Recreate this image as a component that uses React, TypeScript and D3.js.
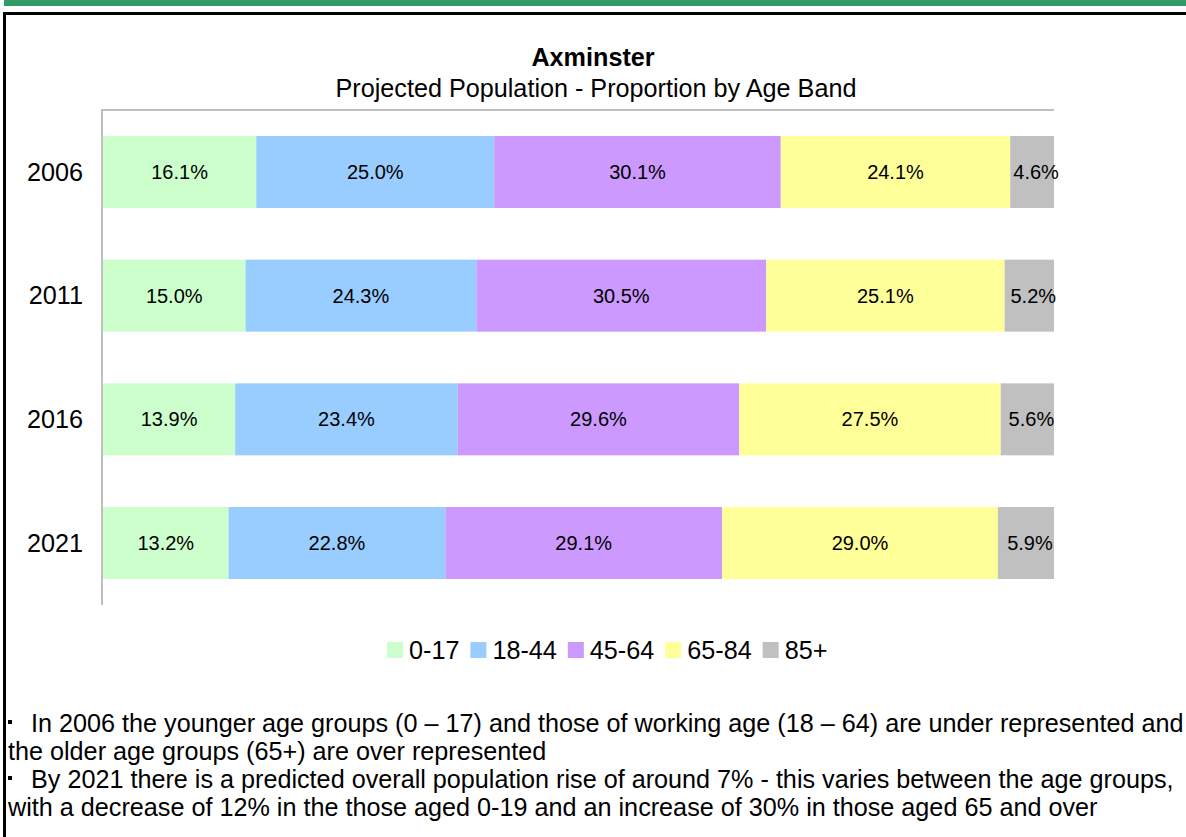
import React from "react";
import * as d3 from "d3";

const years = ["2006", "2011", "2016", "2021"];
const bands = ["0-17", "18-44", "45-64", "65-84", "85+"];
const band0to17 = [16.1, 15.0, 13.9, 13.2];
const band18to44 = [25.0, 24.3, 23.4, 22.8];
const band45to64 = [30.1, 30.5, 29.6, 29.1];
const band65to84 = [24.1, 25.1, 27.5, 29.0];
const band85plus = [4.6, 5.2, 5.6, 5.9];
const colors = ["#CCFFCC", "#99CCFF", "#CC99FF", "#FFFF99", "#C0C0C0"];

const title = "Axminster";
const subtitle = "Projected Population - Proportion by Age Band";
const notes = [
  { bullet: true, text: "In 2006 the younger age groups (0 \u2013 17) and those of working age (18 \u2013 64) are under represented and" },
  { bullet: false, text: "the older age groups (65+) are over represented" },
  { bullet: true, text: "By 2021 there is a predicted overall population rise of around 7% - this varies between the age groups," },
  { bullet: false, text: "with a decrease of 12% in the those aged 0-19 and an increase of 30% in those aged 65 and over" },
];

const FONT = "'Liberation Sans', Arial, Helvetica, sans-serif";
const BIG = 25.2;

function measure(text: string, size: number): number {
  if (typeof document === "undefined") return text.length * size * 0.55;
  const c = document.createElement("canvas");
  const ctx = c.getContext("2d");
  if (!ctx) return text.length * size * 0.55;
  ctx.font = `${size}px ${FONT}`;
  return ctx.measureText(text).width;
}

export default function App() {
  const W = 1186;
  const H = 837;
  const series = [band0to17, band18to44, band45to64, band65to84, band85plus];
  const rows = years.map((y, i) => {
    const o: any = { year: y };
    bands.forEach((b, j) => (o[b] = series[j][i]));
    return o;
  });
  const stacked = d3.stack<any>().keys(bands).offset(d3.stackOffsetExpand)(rows);

  const plotLeft = 103;
  const plotRight = 1054;
  const plotTop = 110;
  const plotBottom = 605;

  const x = d3.scaleLinear().domain([0, 1]).range([plotLeft, plotRight]);
  const y = d3
    .scaleBand<string>()
    .domain(years)
    .range([plotTop, plotBottom])
    .paddingInner(0.418)
    .paddingOuter(0.21);

  // legend layout
  const legendStart = 387;
  let lx = legendStart;
  const legendItems = bands.map((b, i) => {
    const item = { b, i, x: lx };
    lx += 22 + measure(b, BIG) + 11;
    return item;
  });

  return (
    <svg
      width={W}
      height={H}
      style={{ position: "absolute", left: 0, top: 0, background: "#fff" }}
      fontFamily={FONT}
    >
      <rect x={0} y={0} width={W} height={H} fill="#ffffff" />
      <rect x={4} y={0} width={W - 4} height={6} fill="#339966" />
      <rect x={4.5} y={13.5} width={W + 50} height={H + 50} fill="none" stroke="#000" strokeWidth={3} />

      <text x={593} y={66} textAnchor="middle" fontSize={BIG} fontWeight="bold" fill="#000">
        {title}
      </text>
      <text x={596} y={97} textAnchor="middle" fontSize={BIG} fill="#000">
        {subtitle}
      </text>

      {/* plot area borders */}
      <line x1={plotLeft - 2} x2={plotRight} y1={plotTop} y2={plotTop} stroke="#BFBFBF" strokeWidth={2} />
      <line x1={plotLeft - 1} x2={plotLeft - 1} y1={plotTop - 1} y2={plotBottom} stroke="#BFBFBF" strokeWidth={2} />

      {stacked.map((s, si) => (
        <g key={s.key}>
          {s.map((d: any, di: number) => {
            const x0 = x(d[0]);
            const x1 = x(d[1]);
            const yy = y(d.data.year) as number;
            return (
              <g key={di}>
                <rect x={x0} y={yy} width={x1 - x0} height={y.bandwidth()} fill={colors[si]} />
                <text
                  x={(x0 + x1) / 2 + (si === bands.length - 1 ? 4 : 0)}
                  y={yy + y.bandwidth() / 2}
                  dy="0.35em"
                  textAnchor="middle"
                  fontSize={20}
                  fill="#000"
                >
                  {series[si][di].toFixed(1)}%
                </text>
              </g>
            );
          })}
        </g>
      ))}

      {years.map((yr) => (
        <text
          key={yr}
          x={83}
          y={(y(yr) as number) + y.bandwidth() / 2}
          dy="0.35em"
          textAnchor="end"
          fontSize={BIG}
          fill="#000"
        >
          {yr}
        </text>
      ))}

      {legendItems.map((it) => (
        <g key={it.b}>
          <rect x={it.x} y={642} width={16} height={16} fill={colors[it.i]} />
          <text x={it.x + 22} y={659} fontSize={BIG} fill="#000">
            {it.b}
          </text>
        </g>
      ))}

      {notes.map((n, i) => {
        const base = 732 + i * 28;
        return (
          <g key={i}>
            {n.bullet && <rect x={8} y={base - 12} width={4} height={4} fill="#000" />}
            <text x={n.bullet ? 31 : 8} y={base} fontSize={BIG} fill="#000">
              {n.text}
            </text>
          </g>
        );
      })}
    </svg>
  );
}
